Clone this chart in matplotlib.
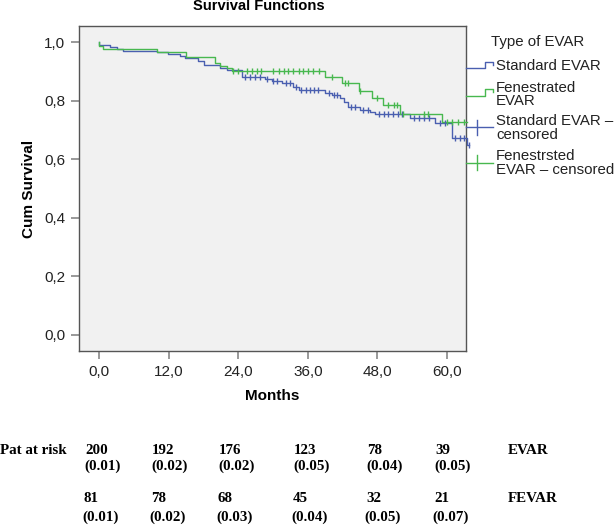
import matplotlib
matplotlib.use("Agg")
import matplotlib.pyplot as plt
from matplotlib.lines import Line2D

# ---------------- data ----------------
# Standard EVAR (step times in months, cumulative survival after the step)
evar_t = [0, 0, 1.85, 3.0, 4.1, 9.9, 11.9, 13.9, 14.8, 17.1, 18.0, 20.8, 22.0, 24.6,
          28.6, 29.8, 31.5, 33.5, 34.4, 39.0, 40.1, 41.6, 42.3, 43.0, 45.0, 46.8,
          47.6, 53.7, 58.0, 60.9, 63.5, 63.9]
evar_s = [1.0, 0.99, 0.983, 0.977, 0.972, 0.966, 0.959, 0.953, 0.947, 0.937, 0.922,
          0.911, 0.905, 0.882, 0.875, 0.868, 0.860, 0.848, 0.837, 0.828, 0.820, 0.809,
          0.797, 0.778, 0.769, 0.761, 0.754, 0.740, 0.725, 0.672, 0.649, 0.649]
evar_cens = [25.2, 26.0, 26.9, 27.8, 28.9, 30.0, 30.6, 32.2, 33.0, 33.9, 34.9, 35.6,
             36.3, 37.1, 37.8, 39.6, 40.6, 41.1, 43.4, 44.2, 45.6, 46.3, 48.3, 49.1,
             49.9, 50.7, 51.5, 52.3, 54.4, 55.2, 56.0, 56.9, 58.8, 59.6, 61.4, 62.2,
             63.0, 63.9]

# Fenestrated EVAR
fevar_t = [0, 0, 0.7, 9.9, 15.0, 20.0, 20.8, 22.0, 22.9, 39.0, 41.9, 44.9, 47.0,
           49.0, 51.9, 59.2, 63.4]
fevar_s = [1.0, 0.988, 0.977, 0.966, 0.951, 0.930, 0.920, 0.911, 0.902, 0.880, 0.860,
           0.835, 0.809, 0.786, 0.754, 0.729, 0.729]
fevar_cens = [23.1, 24.0, 25.5, 26.3, 27.2, 28.0, 30.0, 31.0, 31.8, 32.6, 33.5, 34.4,
              35.2, 36.1, 36.9, 38.0, 40.1, 42.4, 43.0, 45.0, 47.9, 49.9, 50.8, 51.4,
              52.5, 56.0, 56.8, 60.0, 60.9, 62.0, 63.0]

xticks = [0, 12, 24, 36, 48, 60]
xticklabels = ["0,0", "12,0", "24,0", "36,0", "48,0", "60,0"]
yticks = [0.0, 0.2, 0.4, 0.6, 0.8, 1.0]
yticklabels = ["0,0", "0,2", "0,4", "0,6", "0,8", "1,0"]

risk_evar = ["200", "192", "176", "123", "78", "39"]
se_evar = ["(0.01)", "(0.02)", "(0.02)", "(0.05)", "(0.04)", "(0.05)"]
risk_fevar = ["81", "78", "68", "45", "32", "21"]
se_fevar = ["(0.01)", "(0.02)", "(0.03)", "(0.04)", "(0.05)", "(0.07)"]

legend_title = "Type of EVAR"
legend_labels = ["Standard EVAR", "Fenestrated\nEVAR", "Standard EVAR \u2013\ncensored",
                 "Fenestrsted\nEVAR \u2013 censored"]

BLUE = "#4a5fb0"
GREEN = "#48b84f"

# ---------------- figure ----------------
W, H = 616, 525
fig = plt.figure(figsize=(W / 100, H / 100), dpi=100)
fig.patch.set_facecolor("white")

def fx(px):
    return px / W

def fy(py):
    return 1 - py / H

ax = fig.add_axes([fx(79), fy(351), fx(466) - fx(79), fy(26) - fy(351)])
ax.set_facecolor("#f1f1f1")
ax.set_xlim(-3.5, 63.3)
ax.set_ylim(-0.055, 1.056)

sans = "Liberation Sans"
serif = "Liberation Serif"

ax.step(evar_t, evar_s, where="post", color=BLUE, lw=1.0, clip_on=False, zorder=3)
ax.step(fevar_t, fevar_s, where="post", color=GREEN, lw=1.0, clip_on=False, zorder=3)

def surv_at(ts, ss, t):
    v = ss[0]
    for ti, si in zip(ts, ss):
        if ti <= t:
            v = si
    return v

ax.plot(evar_cens, [surv_at(evar_t, evar_s, t) for t in evar_cens], ls="none",
        marker="|", ms=5, mew=1.0, color=BLUE, clip_on=False, zorder=4)
ax.plot(fevar_cens, [surv_at(fevar_t, fevar_s, t) for t in fevar_cens], ls="none",
        marker="|", ms=5, mew=1.0, color=GREEN, clip_on=False, zorder=4)

ax.set_xticks(xticks)
ax.set_xticklabels(xticklabels, fontfamily=sans, fontsize=11, color="#222222")
ax.set_yticks(yticks)
ax.set_yticklabels(yticklabels, fontfamily=sans, fontsize=11, color="#222222")
ax.tick_params(axis="both", direction="out", length=6, width=1.2, color="#888888", pad=4)
for sp in ax.spines.values():
    sp.set_color("#555555")
    sp.set_linewidth(1.0)

ax.set_xlabel("Months", fontfamily=sans, fontsize=11, fontweight="bold", labelpad=7)
ax.set_ylabel("Cum Survival", fontfamily=sans, fontsize=11, fontweight="bold", labelpad=6)
fig.text(fx(259), fy(6), "Survival Functions", ha="center", va="center",
         fontfamily=sans, fontsize=10.6, fontweight="bold")

# ---------------- legend ----------------
fig.text(fx(491), fy(42), legend_title, ha="left", va="center", fontfamily=sans,
         fontsize=10.8, color="#222222")

def fig_line(xs, ys, color, lw=1.0):
    fig.add_artist(Line2D([fx(x) for x in xs], [fy(y) for y in ys], color=color, lw=lw))

fig_line([466, 485, 485, 492.5, 492.5], [67.7, 67.7, 61.5, 61.5, 64.5], BLUE)
fig_line([466, 485, 485, 492.5, 492.5], [96, 96, 88.7, 88.7, 91.5], GREEN)
fig_line([466, 493], [127.3, 127.3], BLUE)
fig_line([477, 477], [120, 135], BLUE)
fig_line([466, 493], [162.7, 162.7], GREEN)
fig_line([477, 477], [155, 170], GREEN)

legend_y = [66.5, 94.5, 128, 163]
for lab, y in zip(legend_labels, legend_y):
    fig.text(fx(496), fy(y), lab, ha="left", va="center", fontfamily=sans,
             fontsize=10.8, color="#222222", linespacing=0.95)

# ---------------- at-risk table ----------------
col_x = [85, 152, 219, 294, 367, 435]
tfs = 10.8
fig.text(fx(0), fy(450.7), "Pat at risk", ha="left", va="center", fontfamily=serif,
         fontsize=tfs, fontweight="bold")
for x, n, se, n2, se2 in zip(col_x, risk_evar, se_evar, risk_fevar, se_fevar):
    fig.text(fx(x), fy(450.7), n, ha="left", va="center", fontfamily=serif,
             fontsize=tfs, fontweight="bold")
    fig.text(fx(x - 1), fy(466.7), se, ha="left", va="center", fontfamily=serif,
             fontsize=tfs, fontweight="bold")
    fig.text(fx(x - 1), fy(498.3), n2, ha="left", va="center", fontfamily=serif,
             fontsize=tfs, fontweight="bold")
    fig.text(fx(x - 3), fy(517.3), se2, ha="left", va="center", fontfamily=serif,
             fontsize=tfs, fontweight="bold")
fig.text(fx(508), fy(450.7), "EVAR", ha="left", va="center", fontfamily=serif,
         fontsize=tfs, fontweight="bold")
fig.text(fx(508), fy(498.3), "FEVAR", ha="left", va="center", fontfamily=serif,
         fontsize=tfs, fontweight="bold")

fig.savefig("out.png", dpi=100, facecolor="white")
